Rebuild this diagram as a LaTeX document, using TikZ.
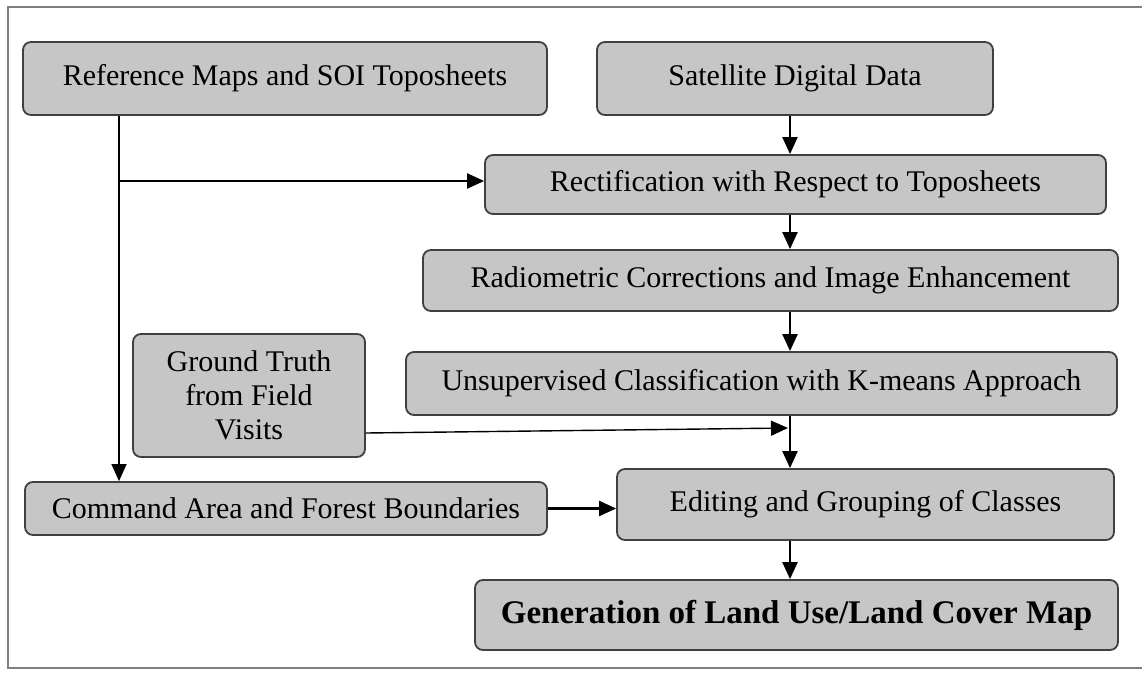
\documentclass[tikz,border=0pt]{standalone}
\usepackage{fontspec}
\setmainfont{Liberation Serif}
\usetikzlibrary{arrows.meta}
\begin{document}
\begin{tikzpicture}[x=0.5pt,y=-0.5pt,
  stepbox/.style={draw=drawColor,fill=fillColor,line width=0.9pt,rounded corners=4pt,
    inner sep=0pt,font=\fontsize{15}{17}\selectfont,align=center},
  arr/.style={draw=black,line width=1.1pt,-{Triangle[length=8.5pt,width=7.5pt]}},
  thin/.style={draw=black,line width=0.7pt}]
\definecolor{fillColor}{RGB}{198,198,198}
\definecolor{drawColor}{RGB}{64,64,64}
\definecolor{frameColor}{RGB}{128,128,128}
\path[use as bounding box] (0,0) rectangle (1142,675);
\path[draw=frameColor,line width=0.8pt] (1142,7) -- (8,7) -- (8,668) -- (1142,668);

\node[stepbox,minimum width=262pt,minimum height=36.5pt] (ref) at (285,78.5) {Reference Maps and SOI Toposheets};
\node[stepbox,minimum width=198pt,minimum height=36.5pt] (sat) at (795,78.5) {Satellite Digital Data};
\node[stepbox,minimum width=310.5pt,minimum height=29.5pt] (rect) at (795.5,184.5) {Rectification with Respect to Toposheets};
\node[stepbox,minimum width=347.5pt,minimum height=30.5pt] (radio) at (770.5,280.5) {Radiometric Corrections and Image Enhancement};
\node[stepbox,minimum width=355.5pt,minimum height=31.5pt] (unsup) at (761.5,383.5) {Unsupervised Classification with K-means Approach};
\node[stepbox,minimum width=116pt,minimum height=61.5pt] (ground) at (249,395.5) {Ground Truth\\from Field\\Visits};
\node[stepbox,minimum width=261pt,minimum height=26.5pt] (cmd) at (286,508.5) {Command Area and Forest Boundaries};
\node[stepbox,minimum width=248.5pt,minimum height=35.5pt] (edit) at (865.5,504.5) {Editing and Grouping of Classes};
\node[stepbox,minimum width=321.5pt,minimum height=35pt,font=\fontsize{16.5}{18}\selectfont\bfseries] (gen) at (796.5,615) {Generation of Land Use/Land Cover Map};

\coordinate (spine) at (790,0);
\coordinate (tap) at (119,181);
\coordinate (meet) at (788,428);

\draw[arr] (sat.south -| spine) -- (rect.north -| spine);
\draw[arr] (rect.south -| spine) -- (radio.north -| spine);
\draw[arr] (radio.south -| spine) -- (unsup.north -| spine);
\draw[arr] (unsup.south -| spine) -- (edit.north -| spine);
\draw[arr] (edit.south -| spine) -- (gen.north -| spine);

\draw[thin] (ref.south -| tap) -- (tap);
\draw[arr,line width=0.7pt] (tap) -- (cmd.north -| tap);
\draw[arr] (tap) -- (tap -| rect.west);
\draw[arr,line width=0.7pt] (ground.east |- 0,433) -- (meet);
\draw[arr] (cmd.east) -- (cmd.east -| edit.west);
\end{tikzpicture}
\end{document}
